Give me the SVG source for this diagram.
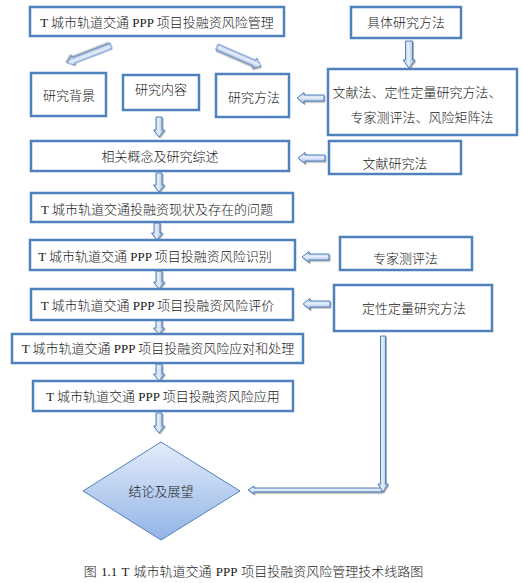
<svg xmlns="http://www.w3.org/2000/svg" width="523" height="583" viewBox="0 0 523 583">
<style>
.box{fill:#fff;stroke:#4F81BD;stroke-width:2.5}
.t{font-family:"Liberation Serif","Noto Sans CJK SC",serif;font-size:13px;font-weight:300;fill:#1a1a1a;text-anchor:middle}
.av{fill:url(#gv);stroke:#4F81BD;stroke-width:1;filter:url(#sh)}
.ah{fill:url(#gh);stroke:#4F81BD;stroke-width:1;filter:url(#sh)}
</style>
<defs>
<linearGradient id="gv" x1="0" y1="0" x2="1" y2="0"><stop offset="0" stop-color="#a9c2e8"/><stop offset="0.45" stop-color="#e6eefa"/><stop offset="1" stop-color="#9cb8e2"/></linearGradient>
<linearGradient id="gh" x1="0" y1="0" x2="0" y2="1"><stop offset="0" stop-color="#a9c2e8"/><stop offset="0.45" stop-color="#e6eefa"/><stop offset="1" stop-color="#9cb8e2"/></linearGradient>
<linearGradient id="gd" x1="0" y1="0" x2="0" y2="1"><stop offset="0" stop-color="#e3ecfa"/><stop offset="1" stop-color="#93b4e6"/></linearGradient>
<filter id="sh" x="-20%" y="-20%" width="150%" height="150%"><feDropShadow dx="1" dy="1.2" stdDeviation="0.6" flood-color="#777" flood-opacity="0.6"/></filter>
</defs>

<g id="connectors">
<polygon class="ah" transform="translate(111,46) rotate(158.9)" points="0,-3 40,-3 40,-5.5 47,0 40,5.5 40,3 0,3"/>
<polygon class="ah" transform="translate(217,47) rotate(23.4)" points="0,-3 41,-3 41,-5.5 48,0 41,5.5 41,3 0,3"/>
<polygon class="av" points="405.5,41 412.5,41 412.5,60 415,60 409,68 403,60 405.5,60"/>
<polygon class="ah" points="324,95 304,95 304,92.5 297,98 304,103.5 304,101 324,101"/>
<polygon class="av" points="156,117 162,117 162,130 164.5,130 159,137 153.5,130 156,130"/>
<polygon class="ah" points="325,155 305,155 305,152.5 298,158 305,163.5 305,161 325,161"/>
<polygon class="av" points="156,173 162,173 162,185 164.5,185 159,192 153.5,185 156,185"/>
<polygon class="av" points="154,223 160,223 160,233 162.5,233 157,240 151.5,233 154,233"/>
<polygon class="ah" points="329,254 309,254 309,251.5 302,257 309,262.5 309,260 329,260"/>
<polygon class="av" points="156,271 162,271 162,282 164.5,282 159,289 153.5,282 156,282"/>
<polygon class="ah" points="330,301 310,301 310,298.5 303,304 310,309.5 310,307 330,307"/>
<polygon class="av" points="156,320 162,320 162,328 164.5,328 159,334 153.5,328 156,328"/>
<polygon class="av" points="156,364 162,364 162,374 164.5,374 159,381 153.5,374 156,374"/>
<polygon class="av" points="156,413 162,413 162,426 164.5,426 159,433 153.5,426 156,426"/>
<polygon class="ah" points="382,488 254,488 254,486 248,490 254,494 254,492 382,492"/>
<polygon class="av" points="380.5,336 385.5,336 385.5,484 388,484 383,492 378,484 380.5,484"/>
</g>

<g id="n1"><rect class="box" x="30" y="7" width="254" height="29"/><text class="t" x="157" y="27">T 城市轨道交通 PPP 项目投融资风险管理</text></g>
<g id="n2"><rect class="box" x="351" y="7" width="110" height="31"/><text class="t" x="406" y="27">具体研究方法</text></g>
<g id="n3"><rect class="box" x="31" y="73" width="75" height="43"/><text class="t" x="69" y="100">研究背景</text></g>
<g id="n4"><rect class="box" x="123" y="75" width="76" height="35"/><text class="t" x="161" y="94">研究内容</text></g>
<g id="n5"><rect class="box" x="216" y="74" width="73" height="43"/><text class="t" x="254" y="102">研究方法</text></g>
<g id="n6"><rect class="box" x="328" y="69" width="189" height="66"/><text class="t" x="417" y="96.5">文献法、定性定量研究方法、</text><text class="t" x="422" y="121.5">专家测评法、风险矩阵法</text></g>
<g id="n7"><rect class="box" x="31" y="141" width="258" height="30"/><text class="t" x="160" y="160.5">相关概念及研究综述</text></g>
<g id="n8"><rect class="box" x="329" y="141" width="132" height="33"/><text class="t" x="395" y="167.5">文献研究法</text></g>
<g id="n9"><rect class="box" x="31" y="193" width="262" height="29"/><text class="t" x="157" y="213.5">T 城市轨道交通投融资现状及存在的问题</text></g>
<g id="n10"><rect class="box" x="30" y="240" width="265" height="30"/><text class="t" x="155" y="260.5">T 城市轨道交通 PPP 项目投融资风险识别</text></g>
<g id="n11"><rect class="box" x="340" y="237" width="132" height="33"/><text class="t" x="405.5" y="262.5">专家测评法</text></g>
<g id="n12"><rect class="box" x="31" y="289" width="262" height="31"/><text class="t" x="157.5" y="309.5">T 城市轨道交通 PPP 项目投融资风险评价</text></g>
<g id="n13"><rect class="box" x="334" y="285" width="158" height="46"/><text class="t" x="414" y="312.5">定性定量研究方法</text></g>
<g id="n14"><rect class="box" x="12" y="334" width="291" height="29"/><text class="t" x="158" y="352.5">T 城市轨道交通 PPP 项目投融资风险应对和处理</text></g>
<g id="n15"><rect class="box" x="33" y="381" width="260" height="30"/><text class="t" x="163" y="400.5">T 城市轨道交通 PPP 项目投融资风险应用</text></g>
<g id="n16"><polygon points="161,442 240,491 161,540 83,491" fill="url(#gd)" stroke="#4F81BD" stroke-width="1"/><text class="t" x="161" y="495.5">结论及展望</text></g>

<text class="t" x="253.5" y="576" word-spacing="1">图 1.1 T 城市轨道交通 PPP 项目投融资风险管理技术线路图</text>
</svg>
